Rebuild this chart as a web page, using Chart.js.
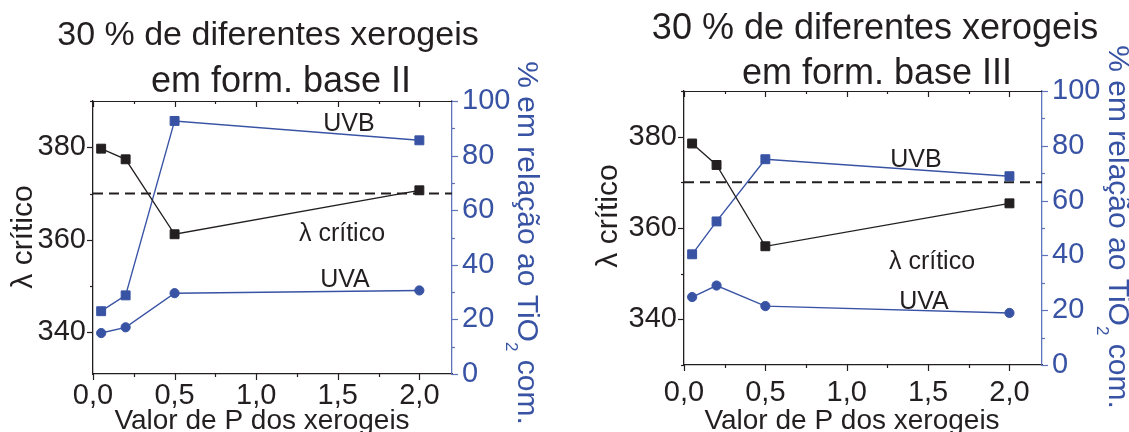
<!DOCTYPE html>
<html>
<head>
<meta charset="utf-8">
<script src="https://cdn.jsdelivr.net/npm/chart.js@4.4.1/dist/chart.umd.min.js"></script>
<style>
    body { margin: 0; background: #fff; width: 1129px; height: 432px; overflow: hidden; position: relative; }
    canvas { position: absolute; top: 0; }
    #chart-base2 { left: 0; }
    #chart-base3 { left: 564px; }
</style>
</head>
<body>
<canvas id="chart-base2" width="564" height="432"></canvas>
<canvas id="chart-base3" width="565" height="432"></canvas>
<script>
// P value of the xerogels (x axis)
var pValues = [0.05, 0.2, 0.5, 2.0];

// formulation base II
var lambdaII = [379.7, 377.4, 361.2, 370.7];
var uvbII = [23.0, 28.8, 92.7, 85.6];
var uvaII = [15.0, 17.1, 29.6, 30.6];

// formulation base III
var lambdaIII = [378.5, 373.8, 356.0, 365.4];
var uvbIII = [40.4, 52.4, 75.1, 68.9];
var uvaIII = [24.8, 29.0, 21.5, 19.0];

// dashed reference line (lambda critico = 370 nm)
var lambdaRef = 370;
var refSpan = [0, 2.2];

// axes
var xRange = [0, 2.2];
var xTickValues = [0, 0.5, 1.0, 1.5, 2.0];
var xTickLabels = ['0,0', '0,5', '1,0', '1,5', '2,0'];
var lambdaRangeII = [331, 390];
var lambdaRangeIII = [330, 390];
var lambdaTicks = [340, 360, 380];
var pctRange = [0, 100];
var pctTicks = [0, 20, 40, 60, 80, 100];

var BLACK = '#231f20';
var BLUE = '#3853a4';
var BLUE_AXIS = '#5f74bb';
var FONT = "'Liberation Sans', Arial, sans-serif";

Chart.defaults.font.family = FONT;

document.addEventListener('DOMContentLoaded', function(event) {
    renderPanel('chart-base2', lambdaII, uvbII, uvaII, lambdaRangeII, {
        top: 101, left: 93, right: 112, bottom: 58, xLabelPad: -1,
        texts: [
            { text: '30 % de diferentes xerogeis', x: 268, y: 45, size: 34, color: BLACK },
            { text: 'em form. base II', x: 281, y: 92, size: 36, color: BLACK },
            { text: 'UVB', x: 349, y: 131, size: 25, color: BLACK },
            { text: '\u03bb cr\u00edtico', x: 342, y: 241, size: 25, color: BLACK },
            { text: 'UVA', x: 345, y: 287, size: 25, color: BLACK },
            { text: 'Valor de P dos xerogeis', x: 262, y: 429, size: 28, color: BLACK },
            { text: '\u03bb cr\u00edtico', x: 32, y: 237, size: 30, color: BLACK, rotate: -90 },
            { parts: [{ text: '% em rela\u00e7\u00e3o ao TiO' }, { text: '2', sub: true }, { text: ' com.' }],
              x: 518, y: 243, size: 30, color: BLUE, rotate: 90 }
        ]
    });
    renderPanel('chart-base3', lambdaIII, uvbIII, uvaIII, lambdaRangeIII, {
        top: 91, left: 120, right: 87, bottom: 67, xLabelPad: 5,
        texts: [
            { text: '30 % de diferentes xerogeis', x: 311, y: 39, size: 36, color: BLACK },
            { text: 'em form. base III', x: 313, y: 84, size: 36, color: BLACK },
            { text: 'UVB', x: 352, y: 167, size: 25, color: BLACK },
            { text: '\u03bb cr\u00edtico', x: 368, y: 269, size: 25, color: BLACK },
            { text: 'UVA', x: 360, y: 309, size: 25, color: BLACK },
            { text: 'Valor de P dos xerogeis', x: 288, y: 429, size: 28, color: BLACK },
            { text: '\u03bb cr\u00edtico', x: 53, y: 216, size: 30, color: BLACK, rotate: -90 },
            { parts: [{ text: '% em rela\u00e7\u00e3o ao TiO' }, { text: '2', sub: true }, { text: ' com.' }],
              x: 545, y: 227, size: 30, color: BLUE, rotate: 90 }
        ]
    });
});

function points(xs, ys) {
    var out = [];
    for (let i = 0; i < xs.length; i++) {
        out.push({ x: xs[i], y: ys[i] });
    }
    return out;
}

function isTick(list, value) {
    for (let i = 0; i < list.length; i++) {
        if (Math.abs(list[i] - value) < 1e-6) return i;
    }
    return -1;
}

// minor/major tick marks and the top frame line
var frameTicks = {
    id: 'frameTicks',
    afterDatasetsDraw: function(chart) {
        var ctx = chart.ctx;
        var area = chart.chartArea;
        ctx.save();
        ctx.lineWidth = 1.2;
        ctx.strokeStyle = BLACK;
        ctx.beginPath();
        ctx.moveTo(area.left, area.top + 0.5);
        ctx.lineTo(area.right, area.top + 0.5);
        ctx.stroke();

        var sx = chart.scales.x;
        sx.ticks.forEach(function(t) {
            var px = Math.round(sx.getPixelForValue(t.value)) + 0.5;
            var len = t.label !== '' ? 6 : 3;
            ctx.beginPath();
            ctx.moveTo(px, area.bottom);
            ctx.lineTo(px, area.bottom + len);
            ctx.moveTo(px, area.top);
            ctx.lineTo(px, area.top + len);
            ctx.stroke();
        });

        var sy = chart.scales.y;
        sy.ticks.forEach(function(t) {
            var py = Math.round(sy.getPixelForValue(t.value)) + 0.5;
            var len = t.label !== '' ? 6 : 3;
            ctx.beginPath();
            ctx.moveTo(area.left - len, py);
            ctx.lineTo(area.left, py);
            ctx.stroke();
        });

        var sy1 = chart.scales.y1;
        ctx.strokeStyle = BLUE_AXIS;
        sy1.ticks.forEach(function(t) {
            var py = Math.round(sy1.getPixelForValue(t.value)) + 0.5;
            var len = t.label !== '' ? 6 : 3;
            ctx.beginPath();
            ctx.moveTo(area.right, py);
            ctx.lineTo(area.right + len, py);
            ctx.stroke();
        });
        ctx.restore();
    }
};

// titles, axis titles and the series labels
var panelText = {
    id: 'panelText',
    afterDraw: function(chart, args, opts) {
        var ctx = chart.ctx;
        opts.items.forEach(function(item) {
            var parts = item.parts || [{ text: item.text }];
            ctx.save();
            ctx.translate(item.x, item.y);
            ctx.rotate((item.rotate || 0) * Math.PI / 180);
            ctx.fillStyle = item.color;
            ctx.textBaseline = 'alphabetic';
            ctx.textAlign = 'left';
            var total = 0;
            parts.forEach(function(p) {
                ctx.font = (p.sub ? Math.round(item.size * 0.58) : item.size) + 'px ' + FONT;
                p.w = ctx.measureText(p.text).width;
                total += p.w;
            });
            var cx = -total / 2;
            parts.forEach(function(p) {
                ctx.font = (p.sub ? Math.round(item.size * 0.58) : item.size) + 'px ' + FONT;
                ctx.fillText(p.text, cx, p.sub ? item.size * 0.4 : 0);
                cx += p.w;
            });
            ctx.restore();
        });
    }
};

function renderPanel(id, lambda, uvb, uva, lambdaRange, box) {
    var ctx = document.getElementById(id).getContext('2d');
    new Chart(ctx, {
        type: 'line',
        data: {
            datasets: [{
                label: '\u03bb cr\u00edtico',
                data: points(pValues, lambda),
                yAxisID: 'y',
                borderColor: BLACK,
                backgroundColor: BLACK,
                borderWidth: 1.3,
                pointStyle: 'rect',
                pointRadius: 6.3,
                pointBorderWidth: 1
            }, {
                label: 'UVB',
                data: points(pValues, uvb),
                yAxisID: 'y1',
                borderColor: BLUE,
                backgroundColor: BLUE,
                borderWidth: 1.4,
                pointStyle: 'rect',
                pointRadius: 6.3,
                pointBorderWidth: 1
            }, {
                label: 'UVA',
                data: points(pValues, uva),
                yAxisID: 'y1',
                borderColor: BLUE,
                backgroundColor: BLUE,
                borderWidth: 1.4,
                pointStyle: 'circle',
                pointRadius: 4.6,
                pointBorderWidth: 1
            }, {
                label: 'ref',
                data: points(refSpan, [lambdaRef, lambdaRef]),
                yAxisID: 'y',
                borderColor: BLACK,
                borderWidth: 2,
                borderDash: [10, 6],
                pointRadius: 0
            }]
        },
        options: {
            responsive: false,
            animation: false,
            layout: { padding: { top: box.top, left: 0, right: 0, bottom: 0 } },
            plugins: {
                legend: { display: false },
                tooltip: { enabled: false },
                panelText: { items: box.texts }
            },
            scales: {
                x: {
                    type: 'linear',
                    min: xRange[0],
                    max: xRange[1],
                    grid: { display: false, drawTicks: true, tickLength: 6 },
                    border: { display: true, color: BLACK, width: 1.3 },
                    ticks: {
                        stepSize: 0.25,
                        includeBounds: false,
                        autoSkip: false,
                        maxRotation: 0,
                        padding: box.xLabelPad,
                        color: BLACK,
                        font: { size: 29 },
                        callback: function(value) {
                            var i = isTick(xTickValues, value);
                            return i >= 0 ? xTickLabels[i] : '';
                        }
                    },
                    afterFit: function(scale) { scale.height = box.bottom; }
                },
                y: {
                    position: 'left',
                    min: lambdaRange[0],
                    max: lambdaRange[1],
                    grid: { display: false, drawTicks: true, tickLength: 6 },
                    border: { display: true, color: BLACK, width: 1.3 },
                    ticks: {
                        stepSize: 10,
                        includeBounds: false,
                        autoSkip: false,
                        padding: 1,
                        color: BLACK,
                        font: { size: 29 },
                        callback: function(value) {
                            return isTick(lambdaTicks, value) >= 0 ? String(value) : '';
                        }
                    },
                    afterFit: function(scale) { scale.width = box.left; }
                },
                y1: {
                    position: 'right',
                    min: pctRange[0],
                    max: pctRange[1],
                    grid: { display: false, drawTicks: true, tickLength: 6 },
                    border: { display: true, color: BLUE_AXIS, width: 1.3 },
                    ticks: {
                        stepSize: 10,
                        autoSkip: false,
                        padding: 4,
                        color: BLUE,
                        font: { size: 29 },
                        callback: function(value) {
                            return isTick(pctTicks, value) >= 0 ? String(value) : '';
                        }
                    },
                    afterFit: function(scale) { scale.width = box.right; }
                }
            }
        },
        plugins: [frameTicks, panelText]
    });
}
</script>
</body>
</html>
